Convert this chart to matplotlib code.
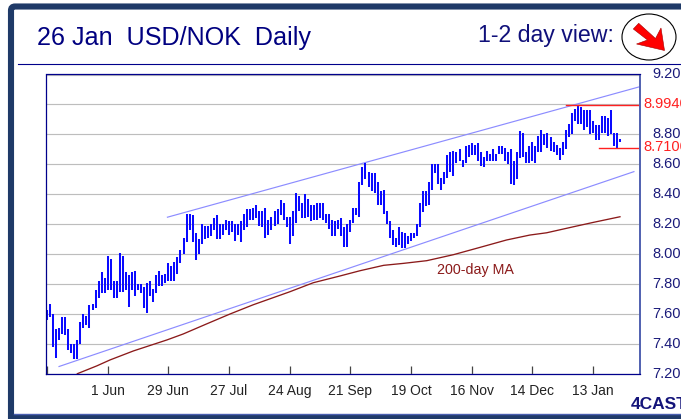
import matplotlib
matplotlib.use("Agg")
import matplotlib.pyplot as plt
from matplotlib.patches import Ellipse, Polygon, FancyBboxPatch, Rectangle
from matplotlib.transforms import ScaledTranslation

plt.rcParams['font.family'] = ['Liberation Sans', 'DejaVu Sans']

# daily high / low, one value per trading day
highs = [7.63, 7.67, 7.60, 7.50, 7.51, 7.58, 7.58, 7.50, 7.40, 7.40,
         7.43, 7.55, 7.60, 7.59, 7.66, 7.67, 7.76, 7.82, 7.88, 7.84,
         7.99, 7.97, 7.82, 7.82, 8.01, 7.99, 7.88, 7.86, 7.88, 7.89,
         7.80, 7.80, 7.78, 7.81, 7.82, 7.77, 7.86, 7.89, 7.86, 7.87,
         7.94, 7.92, 7.95, 7.98, 8.03, 8.11, 8.27, 8.27, 8.26, 8.14,
         8.10, 8.20, 8.19, 8.19, 8.20, 8.24, 8.26, 8.20, 8.20, 8.23,
         8.22, 8.22, 8.20, 8.20, 8.22, 8.27, 8.30, 8.30, 8.31, 8.33,
         8.29, 8.29, 8.31, 8.23, 8.25, 8.29, 8.30, 8.36, 8.34, 8.25,
         8.25, 8.29, 8.41, 8.39, 8.34, 8.40, 8.37, 8.33, 8.33, 8.34,
         8.34, 8.34, 8.27, 8.27, 8.23, 8.22, 8.23, 8.24, 8.18, 8.20,
         8.23, 8.31, 8.31, 8.48, 8.58, 8.61, 8.55, 8.54, 8.54, 8.48,
         8.42, 8.43, 8.29, 8.22, 8.16, 8.11, 8.18, 8.15, 8.14, 8.12,
         8.14, 8.14, 8.20, 8.34, 8.42, 8.42, 8.48, 8.60, 8.60, 8.60,
         8.51, 8.55, 8.66, 8.68, 8.69, 8.68, 8.70, 8.63, 8.72, 8.73,
         8.74, 8.73, 8.74, 8.68, 8.65, 8.69, 8.67, 8.70, 8.67, 8.72,
         8.72, 8.71, 8.68, 8.70, 8.62, 8.68, 8.82, 8.81, 8.68, 8.72,
         8.75, 8.72, 8.79, 8.83, 8.80, 8.81, 8.78, 8.75, 8.73, 8.71,
         8.75, 8.83, 8.87, 8.94, 8.97, 8.994, 8.98, 8.96, 8.96, 8.96,
         8.89, 8.86, 8.86, 8.92, 8.92, 8.91, 8.96, 8.81, 8.81, 8.77]
lows = [7.56, 7.58, 7.38, 7.31, 7.43, 7.47, 7.46, 7.36, 7.34, 7.30,
        7.30, 7.40, 7.51, 7.53, 7.51, 7.63, 7.64, 7.71, 7.74, 7.74,
        7.76, 7.76, 7.71, 7.71, 7.75, 7.75, 7.76, 7.65, 7.76, 7.72,
        7.76, 7.74, 7.64, 7.61, 7.72, 7.68, 7.74, 7.79, 7.79, 7.81,
        7.82, 7.82, 7.82, 7.87, 7.94, 8.00, 8.08, 8.16, 8.08, 7.96,
        8.00, 8.07, 8.10, 8.11, 8.12, 8.16, 8.10, 8.10, 8.13, 8.16,
        8.13, 8.15, 8.09, 8.13, 8.08, 8.16, 8.18, 8.23, 8.23, 8.24,
        8.19, 8.18, 8.11, 8.13, 8.16, 8.19, 8.20, 8.26, 8.23, 8.18,
        8.07, 8.12, 8.21, 8.29, 8.24, 8.24, 8.25, 8.22, 8.23, 8.23,
        8.24, 8.23, 8.21, 8.17, 8.12, 8.12, 8.17, 8.12, 8.05, 8.05,
        8.15, 8.21, 8.26, 8.25, 8.46, 8.50, 8.45, 8.42, 8.41, 8.33,
        8.33, 8.27, 8.20, 8.11, 8.06, 8.05, 8.06, 8.04, 8.04, 8.07,
        8.09, 8.11, 8.12, 8.18, 8.28, 8.32, 8.33, 8.43, 8.54, 8.47,
        8.43, 8.47, 8.51, 8.55, 8.52, 8.61, 8.62, 8.58, 8.61, 8.65,
        8.66, 8.66, 8.62, 8.59, 8.58, 8.62, 8.62, 8.62, 8.62, 8.67,
        8.67, 8.62, 8.60, 8.47, 8.46, 8.50, 8.64, 8.65, 8.61, 8.61,
        8.62, 8.61, 8.68, 8.68, 8.73, 8.71, 8.69, 8.68, 8.66, 8.63,
        8.66, 8.70, 8.78, 8.80, 8.89, 8.87, 8.87, 8.83, 8.85, 8.80,
        8.81, 8.76, 8.76, 8.81, 8.81, 8.79, 8.80, 8.72, 8.71, 8.75]

tick_idx = [0, 20, 40, 60, 80, 100, 120, 140, 160, 180]
tick_labels = ['', '1 Jun', '29 Jun', '27 Jul', '24 Aug', '21 Sep', '19 Oct', '16 Nov', '14 Dec', '13 Jan']
price_ticks = [7.2, 7.4, 7.6, 7.8, 8.0, 8.2, 8.4, 8.6, 8.8, 9.0, 9.2]
price_labels = ['7.20', '7.40', '7.60', '7.80', '8.00', '8.20', '8.40', '8.60', '8.80', '', '9.20']

ma_x = [10, 16.4, 20.8, 28.5, 39.5, 44.9, 52.6, 60.3, 68, 80.1, 87.8, 96.6,
        103.2, 111, 117.5, 125.2, 134, 142.8, 151.5, 159.2, 164.7, 173.5, 180, 188.9]
ma_y = [7.204, 7.256, 7.296, 7.356, 7.429, 7.469, 7.536, 7.602, 7.664, 7.751, 7.811, 7.856,
        7.891, 7.927, 7.94, 7.958, 7.998, 8.047, 8.096, 8.129, 8.144, 8.184, 8.213, 8.251]

upper_x = [39.7, 195.5]
upper_y = [8.248, 9.119]
lower_x = [3.96, 193.5]
lower_y = [7.252, 8.552]

W, H = 681, 419
NAVY = '#1f3a68'
BLUE = '#00008b'

fig = plt.figure(figsize=(W / 100, H / 100), dpi=100, facecolor='white')

# page furniture, in pixel coordinates
bg = fig.add_axes([0, 0, 1, 1])
bg.set_xlim(0, W)
bg.set_ylim(H, 0)
bg.axis('off')
bg.add_patch(FancyBboxPatch((11, 6.5), W + 30, H + 30, boxstyle='round,pad=0,rounding_size=4',
                            fc='white', ec=NAVY, lw=4.4))
bg.add_patch(Rectangle((14, 414), W, 6, fc=NAVY, ec='none'))
bg.plot([14, W], [413.5, 413.5], color='#4a5fb0', lw=1)
bg.plot([18, W], [64.5, 64.5], color=BLUE, lw=0.8)
bg.text(37, 38, '26 Jan  USD/NOK  Daily', fontsize=18.1, color='#000080', va='center', ha='left')
bg.text(478, 35.5, '1-2 day view:', fontsize=16.7, color='#10107a', va='center', ha='left')
bg.add_patch(Ellipse((649, 37), 54, 46, fc='white', ec='black', lw=0.8))
arrow = [(638.7, 23.3), (655.5, 38.5), (661, 28), (664.5, 50.5), (636.5, 44), (647.5, 40), (633.3, 29)]
bg.add_patch(Polygon(arrow, closed=True, fc='#ff0000', ec='#a00000', lw=0.4))
bg.text(631, 404, '4CAST', fontsize=12.5, fontweight='bold', color='#14147a', va='center', ha='left')

left, right, top, bottom = 45.5, 640, 74.5, 374.3
ax = fig.add_axes([left / W, 1 - bottom / H, (right - left) / W, (bottom - top) / H])
ax.patch.set_alpha(0)
ax.set_xlim(-0.5, 195.5)
ax.set_ylim(7.2, 9.2)

ax.grid(axis='y', color='#bdbdbd', lw=0.85)
ax.set_axisbelow(True)

ax.plot(upper_x, upper_y, color='#8c8cff', lw=0.85)
ax.plot(lower_x, lower_y, color='#8c8cff', lw=0.85)
ax.plot(ma_x, ma_y, color='#8b1a1a', lw=0.95)
ax.vlines(range(len(highs)), lows, highs, color='#0a0aff', lw=1.45)

ax.plot([171, 195.5], [8.994, 8.994], color='#ff2020', lw=1)
ax.plot([182, 195.5], [8.71, 8.71], color='#ff2020', lw=1)
ax.text(128.6, 7.897, '200-day MA', color='#8b1a1a', fontsize=10.3, va='center', ha='left')

ax.set_xticks(tick_idx)
ax.set_xticklabels(tick_labels, fontsize=10, color='#222222')
ax.tick_params(axis='x', direction='in', length=6, width=0.9, color='#444444', pad=7)
ax.yaxis.tick_right()
ax.set_yticks(price_ticks)
ax.set_yticklabels(price_labels, fontsize=10.5, color='#1a1a7a')
ax.tick_params(axis='y', length=0, pad=9)

# the price labels sit a little above their gridlines
lift = ScaledTranslation(0, 1.5 / 72, fig.dpi_scale_trans)
for lab in ax.get_yticklabels():
    lab.set_transform(lab.get_transform() + lift)

ytrans = ax.get_yaxis_transform() + ScaledTranslation(0, 0.8 / 72, fig.dpi_scale_trans)
ax.text(1.0055, 8.994, '8.9940', transform=ytrans, color='#ff2020', fontsize=10.5, va='center', ha='left')
ax.text(1.0055, 8.71, '8.7100', transform=ytrans, color='#ff2020', fontsize=10.5, va='center', ha='left')

for side in ['left', 'top', 'bottom']:
    ax.spines[side].set_color(BLUE)
    ax.spines[side].set_linewidth(0.9)
ax.spines['right'].set_color('#5060b0')
ax.spines['right'].set_linewidth(1.4)

fig.savefig('out.png', dpi=100)
